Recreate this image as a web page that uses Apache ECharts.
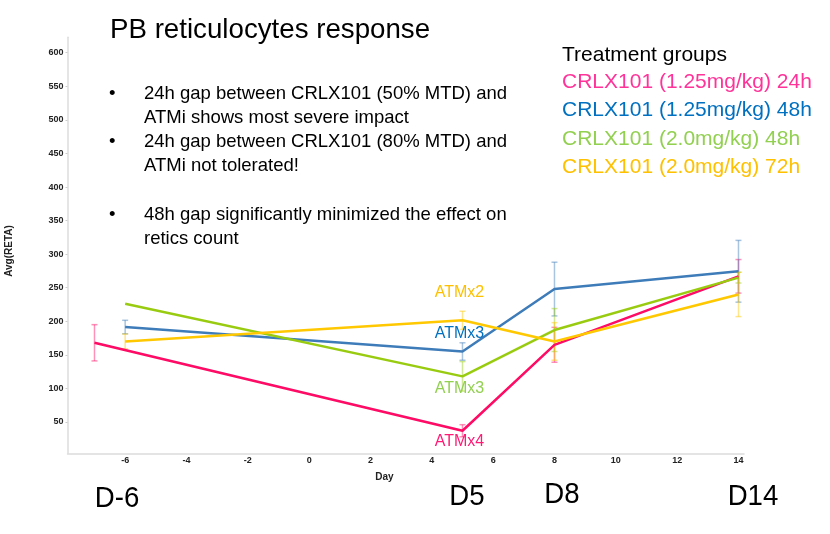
<!DOCTYPE html>
<html>
<head>
<meta charset="utf-8">
<script src="https://cdn.jsdelivr.net/npm/echarts@6/dist/echarts.min.js"></script>
<style>
  html, body { margin: 0; padding: 0; background: #fff; }
  #chart { width: 830px; height: 534px; }
</style>
</head>
<body>
<div id="chart"></div>
<script>
// PB reticulocytes, Avg(RETA) by day for each treatment group
const groupNames = [
  "CRLX101 (1.25mg/kg) 24h",
  "CRLX101 (1.25mg/kg) 48h",
  "CRLX101 (2.0mg/kg) 48h",
  "CRLX101 (2.0mg/kg) 72h"
];
const groupDays = [
  [-7, 5, 8, 14],
  [-6, 5, 8, 14],
  [-6, 5, 8, 14],
  [-6, 5, 8, 14]
];
const groupMeans = [
  [168, 37, 165, 267],
  [191.5, 155, 248, 274.5],
  [226, 118, 187, 265],
  [170, 201.5, 170, 240]
];
const groupErrors = [
  [27, 9, 26, 25],
  [10, 13, 40, 46],
  [0, 22, 32, 8],
  [11, 13.5, 28, 33]
];
const annotations = ["ATMx4", "ATMx3", "ATMx3", "ATMx2"];
const dayMarks = ["D-6", "D5", "D8", "D14"];
const xTicks = [-6, -4, -2, 0, 2, 4, 6, 8, 10, 12, 14];
const yTicks = [50, 100, 150, 200, 250, 300, 350, 400, 450, 500, 550, 600];

const lineColors = ["#ff0a64", "#3e7cb9", "#99cc11", "#ffc800"];
const textColors = ["#ff3399", "#0070c0", "#92d050", "#ffc000"];
const annoColors = ["#ff1a75", "#0070c0", "#92d050", "#ffc000"];
const annoOffsets = [[-3, 11], [-3, -18], [-3, 12], [-3, -28]];

const bulletLines = [
  "24h gap between CRLX101 (50% MTD) and",
  "ATMi shows most severe impact",
  "24h gap between CRLX101 (80% MTD) and",
  "ATMi not tolerated!",
  "",
  "48h gap significantly minimized the effect on",
  "retics count"
];
const bulletAt = [0, 2, 5];

const FONT = "'Liberation Sans', Arial, sans-serif";

let chart = echarts.init(document.getElementById("chart"));

let series = [];
groupNames.forEach((name, g) => {
  let errData = groupDays[g].map((d, i) => [d, groupMeans[g][i], groupErrors[g][i]]);
  series.push({
    name: name + " err",
    type: "custom",
    z: 1,
    silent: true,
    data: errData,
    renderItem: function(params, api) {
      let x = api.value(0), y = api.value(1), e = api.value(2);
      if (!e) return null;
      let top = api.coord([x, y + e]);
      let bot = api.coord([x, y - e]);
      let w = 3;
      let style = { stroke: lineColors[g], lineWidth: 1.5, opacity: 0.45 };
      return {
        type: "group",
        children: [
          { type: "line", shape: { x1: top[0], y1: top[1], x2: bot[0], y2: bot[1] }, style: style },
          { type: "line", shape: { x1: top[0] - w, y1: top[1], x2: top[0] + w, y2: top[1] }, style: style },
          { type: "line", shape: { x1: bot[0] - w, y1: bot[1], x2: bot[0] + w, y2: bot[1] }, style: style }
        ]
      };
    }
  });
});

groupNames.forEach((name, g) => {
  let idx5 = groupDays[g].indexOf(5);
  series.push({
    name: name,
    type: "line",
    z: 3,
    symbol: "none",
    color: lineColors[g],
    lineStyle: { width: 2.5, color: lineColors[g] },
    data: groupDays[g].map((d, i) => [d, groupMeans[g][i]]),
    markPoint: {
      symbol: "circle",
      symbolSize: 1,
      itemStyle: { color: "rgba(0,0,0,0)" },
      label: {
        show: true,
        position: "inside",
        offset: annoOffsets[g],
        formatter: annotations[g],
        color: annoColors[g],
        fontSize: 16,
        fontFamily: FONT
      },
      data: [{ coord: [5, groupMeans[g][idx5]] }]
    }
  });
});

let graphics = [
  {
    type: "text", left: 110, top: 16,
    style: { text: "PB reticulocytes response", fontSize: 27.7, fontFamily: FONT, fill: "#000" }
  },
  {
    type: "text", left: 562, top: 45,
    style: { text: "Treatment groups", fontSize: 21, fontFamily: FONT, fill: "#000" }
  }
];
bulletLines.forEach((t, i) => {
  if (!t) return;
  graphics.push({
    type: "text", left: 144, top: 84 + i * 24.3,
    style: { text: t, fontSize: 18.5, fontFamily: FONT, fill: "#000" }
  });
  if (bulletAt.indexOf(i) >= 0) {
    graphics.push({
      type: "text", left: 109, top: 84 + i * 24.3,
      style: { text: "\u2022", fontSize: 18.5, fontFamily: FONT, fill: "#000" }
    });
  }
});
const dayMarkX = [117, 467, 562, 753];
const dayMarkY = [499, 497, 495, 497];
dayMarks.forEach((t, i) => {
  graphics.push({
    type: "text", x: dayMarkX[i], y: dayMarkY[i], scaleX: 0.92,
    style: { text: t, fontSize: 30, fontFamily: FONT, fill: "#000", align: "center", verticalAlign: "middle" }
  });
});
graphics.push({
  type: "text", x: 9, y: 251, rotation: Math.PI / 2,
  style: { text: "Avg(RETA)", fontSize: 10, fontWeight: "bold", fontFamily: FONT, fill: "#222", align: "center", verticalAlign: "middle" }
});
graphics.push({
  type: "text", x: 384.5, y: 477,
  style: { text: "Day", fontSize: 10, fontWeight: "bold", fontFamily: FONT, fill: "#222", align: "center", verticalAlign: "middle" }
});

let option = {
  animation: false,
  backgroundColor: "#fff",
  grid: { left: 67.5, right: 86, top: 37.3, bottom: 80.7, containLabel: false },
  xAxis: {
    type: "value",
    min: -7.88,
    max: 14.18,
    splitLine: { show: false },
    axisLine: { show: true, onZero: false, lineStyle: { color: "#dcdcdc", width: 1.5 } },
    axisTick: { show: false },
    axisLabel: {
      customValues: xTicks,
      margin: 3,
      fontSize: 9,
      fontWeight: "bold",
      fontFamily: FONT,
      color: "#222"
    }
  },
  yAxis: {
    type: "value",
    min: 3.4,
    max: 623,
    splitLine: { show: false },
    axisLine: { show: true, onZero: false, lineStyle: { color: "#dcdcdc", width: 1.5 } },
    axisTick: { show: true, customValues: yTicks, length: 2, lineStyle: { color: "#cccccc" } },
    axisLabel: {
      customValues: yTicks,
      margin: 4,
      fontSize: 9,
      fontWeight: "bold",
      fontFamily: FONT,
      color: "#222"
    }
  },
  legend: {
    orient: "vertical",
    left: 557,
    top: 71,
    padding: 0,
    icon: "none",
    itemWidth: 0,
    itemHeight: 14,
    itemGap: 6,
    selectedMode: false,
    textStyle: { fontSize: 21, fontFamily: FONT, lineHeight: 22.3 },
    data: groupNames.map((n, g) => ({ name: n, textStyle: { color: textColors[g] } }))
  },
  graphic: graphics,
  series: series
};

chart.setOption(option);
</script>
</body>
</html>
